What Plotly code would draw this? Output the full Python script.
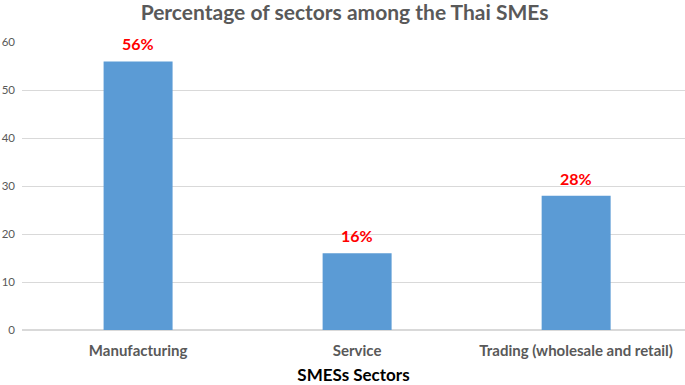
import plotly.graph_objects as go

categories = ["Manufacturing", "Service", "Trading (wholesale and retail)"]
values = [56, 16, 28]
labels = ["56%", "16%", "28%"]
y_ticks = [0, 10, 20, 30, 40, 50, 60]

fig = go.Figure(go.Bar(
    x=categories, y=values,
    marker=dict(color="#5B9BD5", line=dict(width=0)),
    width=0.315,
))
for c, v, t in zip(categories, values, labels):
    fig.add_annotation(x=c, y=v, text="<b>" + t + "</b>", showarrow=False,
                       yanchor="bottom", yshift=6,
                       font=dict(color="#FF0000", size=16, family="Lato"))
fig.update_layout(
    width=685, height=385,
    margin=dict(l=22, r=0, t=42, b=55, autoexpand=False),
    paper_bgcolor="white", plot_bgcolor="white",
    title=dict(text="<b>Percentage of sectors among the Thai SMEs</b>", x=0.503, xanchor="center",
               y=0.968, yanchor="middle", font=dict(family="Lato", size=21, color="#595959"),
               automargin=False),
    font=dict(family="Lato"),
    showlegend=False,
    xaxis=dict(
        range=[-0.53, 2.497],
        tickfont=dict(size=15, color="#595959", family="Lato"),
        tickprefix="<b>", ticksuffix="</b>",
        title=dict(text="<b>SMESs Sectors</b>", font=dict(size=17, color="#000000"), standoff=20),
        showline=False, ticks="", automargin=False, ticklabelstandoff=10,
    ),
    yaxis=dict(
        range=[0, 60.05], tickvals=y_ticks, ticktext=[str(v) for v in y_ticks],
        tickfont=dict(size=11.5, color="#595959"),
        gridcolor="#D9D9D9", gridwidth=1, zeroline=True, zerolinecolor="#D9D9D9",
        showline=False, ticks="", ticklabelstandoff=6, automargin=False,
    ),
)
fig.write_html("out.html", config={"displayModeBar": False},
               post_script="document.body.style.margin='0';")
